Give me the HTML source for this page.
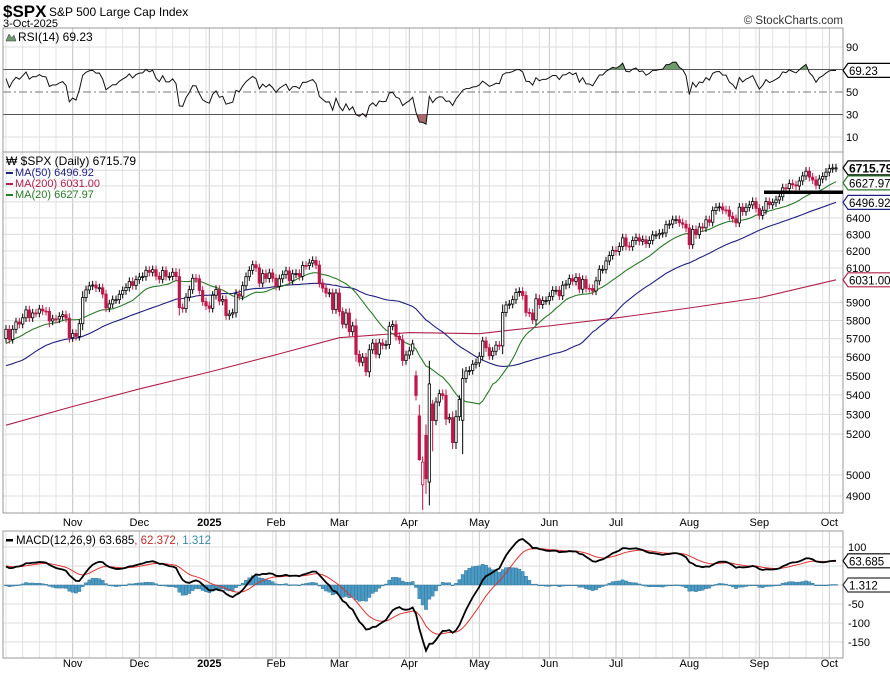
<!DOCTYPE html>
<html><head><meta charset="utf-8">
<style>
html,body{margin:0;padding:0;background:#fff;}
svg{display:block;font-family:"Liberation Sans",sans-serif;}
</style></head>
<body>
<svg id="c" width="890" height="673" viewBox="0 0 890 673" xmlns="http://www.w3.org/2000/svg">
<text x="3" y="17" font-size="17" font-weight="bold">$SPX</text>
<text x="49" y="16" font-size="12">S&amp;P 500 Large Cap Index</text>
<text x="3" y="27" font-size="11">3-Oct-2025</text>
<text x="843" y="24" font-size="11.5" text-anchor="end" fill="#333">© StockCharts.com</text>
<g id="grid"></g>
<g id="marks"></g>
<g id="labels"></g>
</svg>
<script>
// ---- data ----
const preCloses=[5555,5427,5399,5459,5463,5436,5522,5446,5347,5186,5240,5199,5319,5344,5344,5434,5455,5543,5554,5608,5597,5620,5570,5634,5616,5625,5592,5648,5528,5520,5503,5408,5471,5496,5554,5596,5618,5626,5633,5634,5618,5713,5702,5718,5722,5745,5738,5762,5709,5709,5709,5700];
const closes=[5751,5695,5751,5792,5780,5815,5859,5815,5842,5841,5864,5853,5851,5797,5809,5808,5823,5832,5813,5705,
5728,5712,5782,5929,5973,5996,6001,5984,5985,5949,5870,5893,5917,5917,5948,5969,5987,6021,5998,6032,
6047,6050,6086,6075,6090,6052,6034,6085,6051,6051,6075,6050,5872,5867,5931,5974,6040,6037,5970,5906,5882,
5868,5942,5975,5909,5918,5827,5836,5843,5950,5937,5997,6049,6086,6119,6101,6012,6067,6039,6071,6040,
5994,6037,6061,6083,6026,6066,6068,6051,6115,6114,6129,6144,6117,6013,5983,5955,5956,5861,5955,
5850,5779,5842,5738,5770,5614,5572,5599,5521,5639,5675,5615,5676,5663,5668,5768,5777,5712,5693,5581,5611,
5633,5671,5397,5074,5062,4982,5457,5268,5363,5406,5397,5276,5283,5158,5288,5376,5485,5525,5528,5561,5569,
5604,5687,5650,5607,5631,5664,5660,5844,5887,5892,5917,5958,5964,5941,5845,5842,5803,5922,5889,5912,5912,
5936,5970,5971,5939,6000,6006,6038,6022,6045,5977,6033,5982,5981,5967,6025,6092,6092,6141,6173,6204,
6198,6227,6279,6230,6226,6263,6280,6259,6268,6244,6264,6297,6297,6306,6309,6359,6363,6389,6390,6371,6362,6339,
6238,6330,6299,6345,6340,6389,6374,6446,6466,6469,6450,6449,6411,6396,6370,6467,6439,6466,6481,6502,6460,
6416,6448,6502,6482,6495,6512,6532,6588,6584,6615,6607,6600,6632,6664,6694,6656,6638,6605,6644,6661,6688,
6711,6715,6715.79];
const openOverride={123:5500,124:5292,125:4953,126:5194,127:4966,128:5353,137:5270};
const lowOverride={124:5069,125:4835,126:4910,127:4856,128:5115,137:5101,13:5762};
const months=["Nov","Dec","2025","Feb","Mar","Apr","May","Jun","Jul","Aug","Sep","Oct"];
const monthIdx=[20,40,61,81,100,121,142,163,183,205,226,247];
const ma200Idx=[0,20,40,61,81,100,121,142,163,183,205,226,249];
const ma200Vals=[5245,5340,5431,5520,5612,5705,5733,5727,5770,5814,5870,5928,6031];
const priceTicks=[4900,5000,5200,5300,5400,5500,5600,5700,5800,5900,6000,6100,6200,6300,6400];
const rsiTicks=[90,70,50,30,10];
const macdTicks=[100,50,-50,-100,-150];
const supportLevel=6560;
const legendVals={rsi:"69.23",price:"6715.79",ma50:"6496.92",ma200:"6031.00",ma20:"6627.97",macd:"63.685",sig:"62.372",hist:"1.312"};

// ---- scales ----
const L=3,R=843;
const xOf=i=>6+i*(830/249);
const yP=v=>218+(Math.log(6400)-Math.log(v))*1041;
const yR=v=>92-(v-50)*1.125;
const yM=v=>585-v*0.38;
const NS="http://www.w3.org/2000/svg";
function mk(tag,attrs,parent){const e=document.createElementNS(NS,tag);for(const k in attrs)e.setAttribute(k,attrs[k]);parent.appendChild(e);return e;}
const G=document.getElementById('grid'),M=document.getElementById('marks'),LB=document.getElementById('labels');

// ---- indicators (derived from closes) ----
const all=preCloses.concat(closes),off=preCloses.length;
function sma(n,i){let s=0;for(let k=i-n+1;k<=i;k++)s+=all[k];return s/n;}
const ma20=closes.map((_,i)=>sma(20,i+off)),ma50=closes.map((_,i)=>sma(50,i+off));
function ema(arr,n){const a=2/(n+1);const o=[arr[0]];for(let i=1;i<arr.length;i++)o.push(a*arr[i]+(1-a)*o[i-1]);return o;}
const e12=ema(all,12),e26=ema(all,26);
const macdAll=all.map((v,i)=>e12[i]-e26[i]);const sigAll=ema(macdAll,9);
const macd=macdAll.slice(off),sig=sigAll.slice(off),hist=macd.map((v,i)=>v-sig[i]);
let ag=0,al=0;for(let i=1;i<=14;i++){const d=all[i]-all[i-1];if(d>0)ag+=d;else al-=d;}ag/=14;al/=14;
const rsiAll=[];for(let i=15;i<all.length;i++){const d=all[i]-all[i-1];ag=(ag*13+Math.max(d,0))/14;al=(al*13+Math.max(-d,0))/14;rsiAll[i]=100-100/(1+ag/al);}
const rsi=closes.map((_,i)=>rsiAll[i+off]);

// ---- panels & grid ----
const panels=[[28,152,'rsi-panel'],[152,513,'price-panel'],[531,658,'macd-panel']];
for(let i=0;i<closes.length;i+=5){
 for(const p of panels){const l=mk('line',{x1:xOf(i),x2:xOf(i),y1:p[0],y2:p[1],stroke:'#e3e3e3','stroke-width':1},G);
 
 }
}
monthIdx.forEach((mi,k)=>{
 for(const p of panels){const l=mk('line',{x1:xOf(mi),x2:xOf(mi),y1:p[0],y2:p[1],stroke:'#c8c8c8','stroke-width':1},G);
 
 }
 for(const ty of [526,667]){const t=mk('text',{x:xOf(mi),y:ty,'font-size':11,'text-anchor':'middle','font-weight':months[k]==='2025'?'bold':'normal'},LB);t.textContent=months[k];
 
 }
});
priceTicks.concat([6500,6600,6700]).forEach(v=>{const l=mk('line',{x1:L,x2:R,y1:yP(v),y2:yP(v),stroke:'#dcdcdc'},G);
 
 });
priceTicks.forEach(v=>{if(v===6000)return;const t=mk('text',{x:846,y:yP(v)+4,'font-size':11},LB);t.textContent=v;
 
 });
rsiTicks.forEach(v=>{const dark=(v===70||v===30);const l=mk('line',{x1:L,x2:R,y1:yR(v),y2:yR(v),stroke:dark?'#555':(v===50?'#777':'#dcdcdc'),'stroke-dasharray':v===50?'8,3,2,3':'none'},G);
 
 
 if(v!==70){const t=mk('text',{x:846,y:yR(v)+4,'font-size':11},LB);t.textContent=v;
 
 }});
[100,50,0,-50,-100,-150].forEach(v=>{const l=mk('line',{x1:L,x2:R,y1:yM(v),y2:yM(v),stroke:'#dcdcdc'},G);
 
 });
macdTicks.forEach(v=>{if(v===50)return;const t=mk('text',{x:848,y:yM(v)+4,'font-size':11},LB);t.textContent=v;
 
 });
for(const p of panels){const r=mk('rect',{x:L,y:p[0],width:R-L,height:p[1]-p[0],fill:'none',stroke:'#999'},G);
 
 }

// ---- RSI ----
const rpts=rsi.map((v,i)=>[xOf(i),yR(v)]);
const cl=mk('clipPath',{id:'ob'},M);mk('rect',{x:L,y:28,width:R-L,height:yR(70)-28},cl);
const cl2=mk('clipPath',{id:'os'},M);mk('rect',{x:L,y:yR(30),width:R-L,height:152-yR(30)},cl2);
const ob=mk('polygon',{points:rpts.map(p=>p.join(',')).join(' ')+` ${xOf(249)},${yR(70)} ${xOf(0)},${yR(70)}`,fill:'#6f9a6f','clip-path':'url(#ob)'},M);


const os=mk('polygon',{points:rpts.map(p=>p.join(',')).join(' ')+` ${xOf(249)},${yR(30)} ${xOf(0)},${yR(30)}`,fill:'#a86a6a','clip-path':'url(#os)'},M);


const rl=mk('polyline',{points:rpts.map(p=>p.join(',')).join(' '),fill:'none',stroke:'#111','stroke-width':1},M);



// ---- moving averages ----
function line(pts,color,w,name){const p=mk('polyline',{points:pts.map(p=>p.join(',')).join(' '),fill:'none',stroke:color,'stroke-width':w},M);
 
 }
line(ma200Idx.map((i,k)=>[xOf(i),yP(ma200Vals[k])]),'#b0204a',1.1,'ma200-line');
line(ma50.map((v,i)=>[xOf(i),yP(v)]),'#202080',1.1,'ma50-line');
line(ma20.map((v,i)=>[xOf(i),yP(v)]),'#2a7a2a',1.1,'ma20-line');

// ---- candles ----
closes.forEach((c,i)=>{
 const prev=i===0?preCloses[preCloses.length-1]:closes[i-1];
 const o=(i in openOverride)?openOverride[i]:prev;
 const up=c>=prev;
 const spread=Math.max(0.004,Math.abs(c-o)/c*0.25);
 const hi=Math.max(o,c)*(1+spread);
 const lo=(i in lowOverride)?lowOverride[i]:Math.min(o,c)*(1-spread);
 const x=xOf(i),col=up?'#000':'#c0174a';
 const w=mk('line',{x1:x,x2:x,y1:yP(hi),y2:yP(lo),stroke:col,'stroke-width':1},M);
 
 
 const top=yP(Math.max(o,c)),bot=yP(Math.min(o,c));
 const filled=c<o;
 const b=mk('rect',{x:x-1.2,y:top,width:2.4,height:Math.max(1,bot-top),fill:filled?col:'#fff',stroke:col,'stroke-width':0.8},M);
 
 
});
const sl=mk('line',{x1:764,x2:843,y1:yP(supportLevel),y2:yP(supportLevel),stroke:'#000','stroke-width':3.5},M);



// ---- MACD ----
hist.forEach((h,i)=>{const y0=yM(0),y1=yM(h);const r=mk('rect',{x:xOf(i)-1.6,y:Math.min(y0,y1),width:3.2,height:Math.max(0.8,Math.abs(y1-y0)),fill:'#4a9ac4',stroke:'#2d6f95','stroke-width':0.4},M);
 
 });
line(sig.map((v,i)=>[xOf(i),yM(v)]),'#e03030',1,'macd-signal-line');
line(macd.map((v,i)=>[xOf(i),yM(v)]),'#000',1.8,'macd-line');

// ---- value tags ----
function tag(y,text,color,bold,name){const g=mk('g',{},LB);
 
 
 const w=bold?48:45;mk('polygon',{points:`843,${y} 848,${y-7} ${848+w},${y-7} ${848+w},${y+7} 848,${y+7}`,fill:'#fff',stroke:color,'stroke-width':1.2},g);
 const t=mk('text',{x:849,y:y+4.5,'font-size':bold?12:11.5,'font-weight':bold?'bold':'normal',fill:'#000'},g);t.textContent=text;}
tag(yR(rsi[249]),legendVals.rsi,'#000',false,'rsi-value-tag');
tag(yP(closes[249]),legendVals.price,'#000',true,'price-value-tag');
tag(yP(closes[249])+15,legendVals.ma20,'#2a7a2a',false,'ma20-value-tag');
tag(yP(ma50[249]),legendVals.ma50,'#202080',false,'ma50-value-tag');
tag(yP(ma200Vals[ma200Vals.length-1]),legendVals.ma200,'#b0204a',false,'ma200-value-tag');
tag(yM(macd[249]),legendVals.macd,'#000',false,'macd-value-tag');
tag(yM(0),legendVals.hist,'#333',false,'histogram-value-tag');

// ---- legends ----
function txt(x,y,s,fill,name,size){const t=mk('text',{x:x,y:y,'font-size':size||11.5,fill:fill},LB);t.textContent=s;
 
 return t;}
mk('polygon',{points:'6,41 9,34 12,38 14,35 16,41',fill:'#6f9a6f',stroke:'#333','stroke-width':0.5},LB);
txt(18,41,'RSI(14) '+legendVals.rsi,'#000','rsi-legend',12);
txt(6,165,'₩ $SPX (Daily) '+legendVals.price,'#000','price-legend',12);
mk('rect',{x:6,y:172,width:7,height:2,fill:'#202080'},LB);
txt(15,176,'MA(50) '+legendVals.ma50,'#202080','ma50-legend',11);
mk('rect',{x:6,y:183,width:7,height:2,fill:'#b0204a'},LB);
txt(15,187,'MA(200) '+legendVals.ma200,'#b0204a','ma200-legend',11);
mk('rect',{x:6,y:194,width:7,height:2,fill:'#2a7a2a'},LB);
txt(15,198,'MA(20) '+legendVals.ma20,'#2a7a2a','ma20-legend',11);
mk('rect',{x:6,y:539,width:7,height:2.5,fill:'#000'},LB);
const mt=mk('text',{x:16,y:544,'font-size':11.5},LB);


const s1=mk('tspan',{fill:'#000'},mt);s1.textContent='MACD(12,26,9) '+legendVals.macd;
const s2=mk('tspan',{fill:'#c03030'},mt);s2.textContent=', '+legendVals.sig;
const s3=mk('tspan',{fill:'#3a8aaa'},mt);s3.textContent=', '+legendVals.hist;
</script>
</body></html>
